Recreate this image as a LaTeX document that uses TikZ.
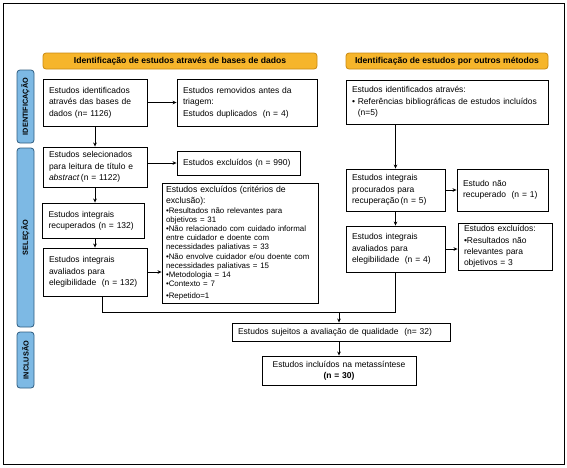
\documentclass[tikz,border=0pt]{standalone}
\usepackage{fontspec}
\setmainfont{Liberation Sans}
\usetikzlibrary{arrows.meta}
\definecolor{orfill}{HTML}{F6B52B}
\definecolor{ordraw}{HTML}{C98A12}
\definecolor{blfill}{HTML}{7DB9E4}
\definecolor{bldraw}{HTML}{2F5D80}
\begin{document}
\begin{tikzpicture}[x=1pt,y=-1pt,
  box/.style={draw=black, line width=0.9pt, inner xsep=6pt, inner ysep=0pt, align=left,
    font=\fontsize{8.5}{11.3}\selectfont},
  hdr/.style={draw=ordraw, fill=orfill, line width=0.8pt, rounded corners=3pt, inner sep=0pt,
    font=\bfseries\fontsize{8.6}{9}\selectfont},
  side/.style={draw=bldraw, fill=blfill, line width=0.8pt, rounded corners=3pt, inner sep=0pt,
    rotate=90, font=\bfseries\fontsize{7.3}{8}\selectfont},
  arr/.style={line width=0.8pt, -{Stealth[length=4pt,width=3.6pt]}},
  ln/.style={line width=0.8pt}]
\useasboundingbox (0,0) rectangle (567,467);
\draw[line width=1pt] (3,3) rectangle (564,464);

% headers
\node[hdr, minimum width=274pt, minimum height=16pt] (h1) at (180,61) {Identificação de estudos através de bases de dados};
\node[hdr, minimum width=202pt, minimum height=16pt] (h2) at (447,61) {Identificação de estudos por outros métodos};

% side labels
\node[side, minimum width=73pt, minimum height=17pt] (s1) at (25.5,106.5) {IDENTIFICAÇÃO};
\node[side, minimum width=179pt, minimum height=17pt] (s2) at (25.5,237.5) {SELEÇÃO};
\node[side, minimum width=56pt, minimum height=17pt] (s3) at (25.5,360) {INCLUSÃO};

% left column
\node[box, text width=92pt, minimum height=47pt] (A) at (95,102.5)
  {Estudos identificados\\através das bases de\\dados (n= 1126)};
\node[box, text width=128pt, minimum height=47pt] (B) at (247,102.5)
  {Estudos removidos antes da\\triagem:\\Estudos duplicados\ \ (n = 4)};
\node[box, text width=92pt, minimum height=40pt] (C) at (95,167)
  {Estudos selecionados\\para leitura de título e\\\textit{abstract}\,(n = 1122)};
\node[box, text width=111pt, minimum height=24pt] (D) at (238.5,163)
  {Estudos excluídos (n = 990)};
\node[box, text width=90pt, minimum height=35pt] (E) at (93.5,220.5)
  {Estudos integrais\\recuperados (n = 132)};
\node[box, inner xsep=4pt, text width=148pt, minimum height=120pt] (F) at (240,243)
  {{\fontsize{8.7}{9.4}\selectfont Estudos excluídos (critérios de\\exclusão):}\\
   {\fontsize{7.9}{9.2}\selectfont •Resultados não relevantes para\\objetivos = 31\\
   •Não relacionado com cuidado informal\\entre cuidador e doente com\\
   necessidades paliativas = 33\\•Não envolve cuidador e/ou doente com\\
   necessidades paliativas = 15\\•Metodologia = 14\\•Contexto = 7\\•Repetido=1}};
\node[box, text width=92pt, minimum height=48pt] (G) at (95,272)
  {Estudos integrais\\avaliados para\\elegibilidade\ \ (n = 132)};

% right column
\node[box, text width=190pt, minimum height=44pt] (H) at (447,102)
  {Estudos identificados através:\\• Referências bibliográficas de estudos incluídos\\\phantom{• }(n=5)};
\node[box, text width=87pt, minimum height=42pt] (I) at (395.5,190)
  {Estudos integrais\\procurados para\\recuperação\,(n = 5)};
\node[box, text width=79pt, minimum height=42pt] (J) at (502.5,190)
  {Estudo não\\recuperado\ \ (n = 1)};
\node[box, text width=87pt, minimum height=46pt] (K) at (395.5,249)
  {Estudos integrais\\avaliados para\\elegibilidade\ \ (n = 4)};
\node[box, text width=82pt, minimum height=47pt] (L) at (505,246.5)
  {Estudos excluídos:\\•Resultados não\\relevantes para\\objetivos = 3};

% bottom
\node[box, text width=206pt, minimum height=18pt] (M) at (341,332)
  {Estudos sujeitos a avaliação de qualidade\ \ (n= 32)};
\node[box, align=center, text width=142pt, minimum height=29pt] (N) at (339,370.5)
  {Estudos incluídos\ na metassíntese\\\textbf{(n = 30)}};

% connectors
\draw[arr] (A) -- (B);
\draw[arr] (A) -- (C);
\draw[arr] (C.east |- D.west) -- (D.west);
\draw[arr] (C.south) -- (C.south |- E.north);
\draw[arr] (C.south |- E.south) -- (C.south |- G.north);
\draw[arr] (G.east) -- (G.east -| F.west);
\draw[arr] (H.south -| I.north) -- (I.north);
\draw[arr] (I) -- (J);
\draw[arr] (I) -- (K);
\draw[arr] (K.east) -- (K.east -| L.west);
\coordinate (mL) at (102,312);
\coordinate (mA) at (339,312);
\draw[ln] (G.south -| mL) -- (mL) -- (mL -| K.south) -- (K.south);
\draw[arr] (mA) -- (mA |- M.north);
\draw[arr] (M.south -| mA) -- (N.north -| mA);
\end{tikzpicture}
\end{document}
